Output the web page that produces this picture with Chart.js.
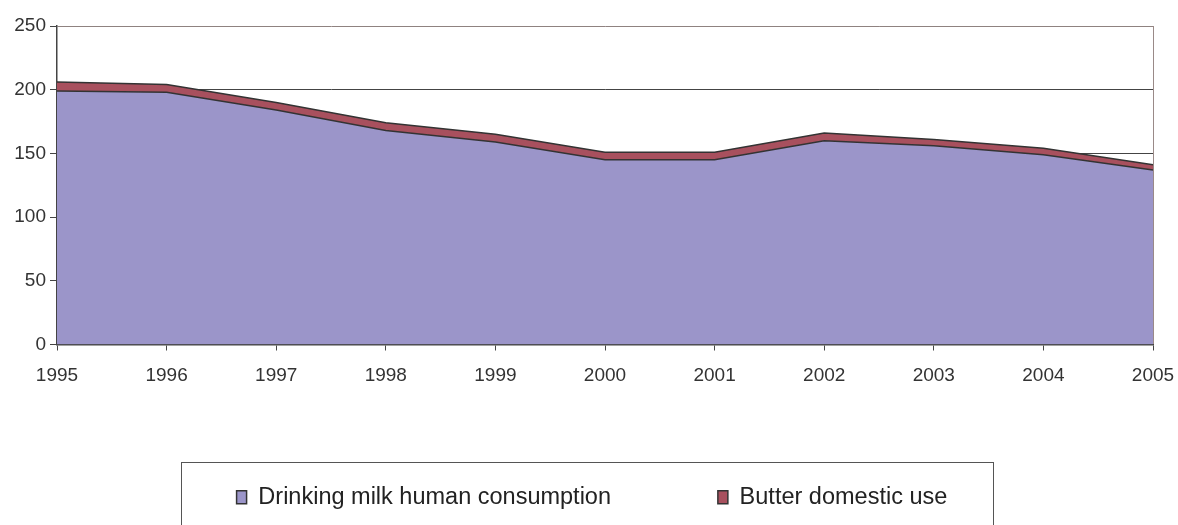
<!DOCTYPE html>
<html lang="en">
<head>
    <meta charset="UTF-8">
    <title>Milk and butter</title>
    <script src="https://cdn.jsdelivr.net/npm/chart.js"></script>
    <style>
        html, body {
            margin: 0;
            padding: 0;
            background: #ffffff;
        }
        #chart-container {
            position: relative;
            width: 1178px;
            height: 525px;
        }
    </style>
</head>
<body>
    <div id="chart-container">
        <canvas id="milk-chart"></canvas>
    </div>

    <script>
        // data
        const years = ['1995', '1996', '1997', '1998', '1999', '2000', '2001', '2002', '2003', '2004', '2005'];
        const drinkingMilk = [199, 198, 184, 168, 159, 145, 145, 160, 156, 149, 137];
        const butterUse = [7, 6, 6, 6, 6, 6, 6, 6, 5, 5, 4];
        const yTicks = [0, 50, 100, 150, 200, 250];

        const fontFamily = '"Liberation Sans", Arial, sans-serif';

        // frame drawn round the legend
        const legendFrame = {
            id: 'legendFrame',
            afterDraw(chart) {
                const ctx = chart.ctx;
                ctx.save();
                ctx.strokeStyle = '#555555';
                ctx.lineWidth = 1;
                ctx.strokeRect(181.5, 462.5, 812, 90);
                ctx.restore();
            }
        };

        const data = {
            labels: years,
            datasets: [{
                label: 'Drinking milk human consumption',
                data: drinkingMilk,
                backgroundColor: '#9b95c9',
                borderColor: '#333333',
                borderWidth: 1.5,
                fill: 'origin',
                pointRadius: 0,
                tension: 0
            }, {
                label: 'Butter domestic use',
                data: butterUse,
                backgroundColor: '#a8505e',
                borderColor: '#333333',
                borderWidth: 1.5,
                fill: '-1',
                pointRadius: 0,
                tension: 0
            }]
        };

        const config = {
            type: 'line',
            data: data,
            plugins: [legendFrame],
            options: {
                responsive: false,
                animation: false,
                layout: {
                    padding: { left: 0, right: 25, top: 26, bottom: 6 }
                },
                plugins: {
                    tooltip: { enabled: false },
                    legend: {
                        position: 'bottom',
                        fullSize: false,
                        padding: 16,
                        labels: {
                            color: '#222222',
                            font: { family: fontFamily, size: 23.5 },
                            boxWidth: 10,
                            boxHeight: 13,
                            padding: 22,
                            generateLabels: (chart) => {
                                const items = Chart.defaults.plugins.legend.labels.generateLabels(chart);
                                items.forEach((item, i) => {
                                    // spacing as in the original legend
                                    item.text = item.text + ' '.repeat(i < items.length - 1 ? 13 : 4);
                                });
                                return items;
                            }
                        }
                    }
                },
                scales: {
                    x: {
                        afterFit: (scale) => {
                            scale.height = 119;
                            scale.paddingLeft = 0;
                            scale.paddingRight = 0;
                        },
                        border: { color: '#444444', width: 1.5 },
                        grid: {
                            color: (c) => c.index === years.length - 1 ? '#9a8a88' : 'rgba(0,0,0,0)',
                            tickColor: '#444444',
                            tickLength: 6
                        },
                        ticks: {
                            color: '#333333',
                            font: { family: fontFamily, size: 19 },
                            padding: 14,
                            maxRotation: 0,
                            autoSkip: false
                        }
                    },
                    y: {
                        stacked: true,
                        min: 0,
                        max: 250,
                        afterFit: (scale) => { scale.width = 57; },
                        afterBuildTicks: (scale) => {
                            scale.ticks = yTicks.map(v => ({ value: v }));
                        },
                        border: { color: '#444444', width: 1.5 },
                        grid: {
                            color: (c) => c.tick && c.tick.value === 250 ? '#8f8280' : '#444444',
                            tickColor: '#444444',
                            tickLength: 7
                        },
                        ticks: {
                            color: '#333333',
                            font: { family: fontFamily, size: 19 },
                            padding: 4
                        }
                    }
                }
            }
        };

        const ctx = document.getElementById('milk-chart');
        ctx.width = 1178;
        ctx.height = 525;
        const milkChart = new Chart(ctx, config);
    </script>
</body>
</html>
